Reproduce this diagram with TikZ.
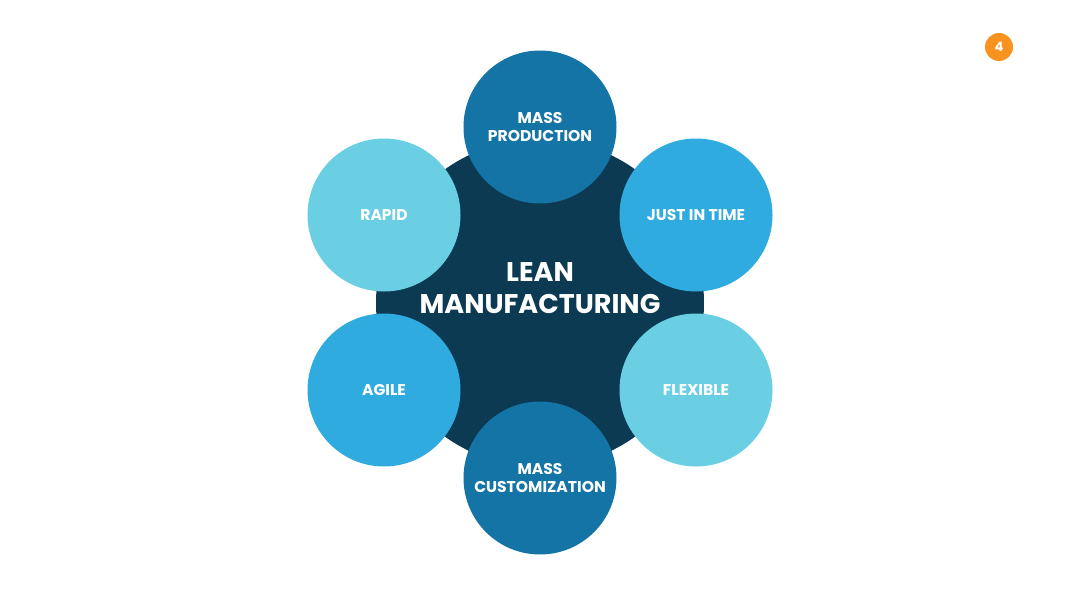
\documentclass[tikz,border=0pt]{standalone}
\usepackage{fontspec}
\setmainfont{Poppins}[BoldFont={* Bold}]
\definecolor{cdark}{HTML}{0B3A52}
\definecolor{cmid}{HTML}{1474A6}
\definecolor{cbright}{HTML}{2FABDF}
\definecolor{clight}{HTML}{6ACFE3}
\definecolor{corange}{HTML}{F7931E}
\begin{document}
\begin{tikzpicture}[x=1pt,y=-1pt,
  hub/.style={circle,fill=cdark,minimum size=328pt,inner sep=0pt},
  petal/.style={circle,minimum size=153pt,inner sep=0pt,text=white,align=center,
    font=\fontsize{15.6}{18.8}\selectfont\bfseries},
  badge/.style={circle,fill=corange,minimum size=28pt,inner sep=0pt,text=white,
    font=\fontsize{13}{13}\selectfont\bfseries}]
\useasboundingbox (0,0) rectangle (1080,608);
\fill[white] (0,0) rectangle (1080,608);
\node[hub] (hub) at (540,303) {};
\node[petal,fill=cmid] (mp) at (540,127) {MASS\\PRODUCTION};
\node[petal,fill=cbright] (jit) at (696,215) {JUST IN TIME};
\node[petal,fill=clight] (flex) at (696,390) {FLEXIBLE};
\node[petal,fill=cmid] (mc) at (540,478) {MASS\\CUSTOMIZATION};
\node[petal,fill=cbright] (agile) at (384,390) {AGILE};
\node[petal,fill=clight] (rapid) at (384,215) {RAPID};
\node[text=white,align=center,font=\fontsize{27}{31.5}\selectfont\bfseries] (title) at (540,288) {LEAN\\MANUFACTURING};
\node[badge] (num) at (999,47) {4};
\end{tikzpicture}
\end{document}
